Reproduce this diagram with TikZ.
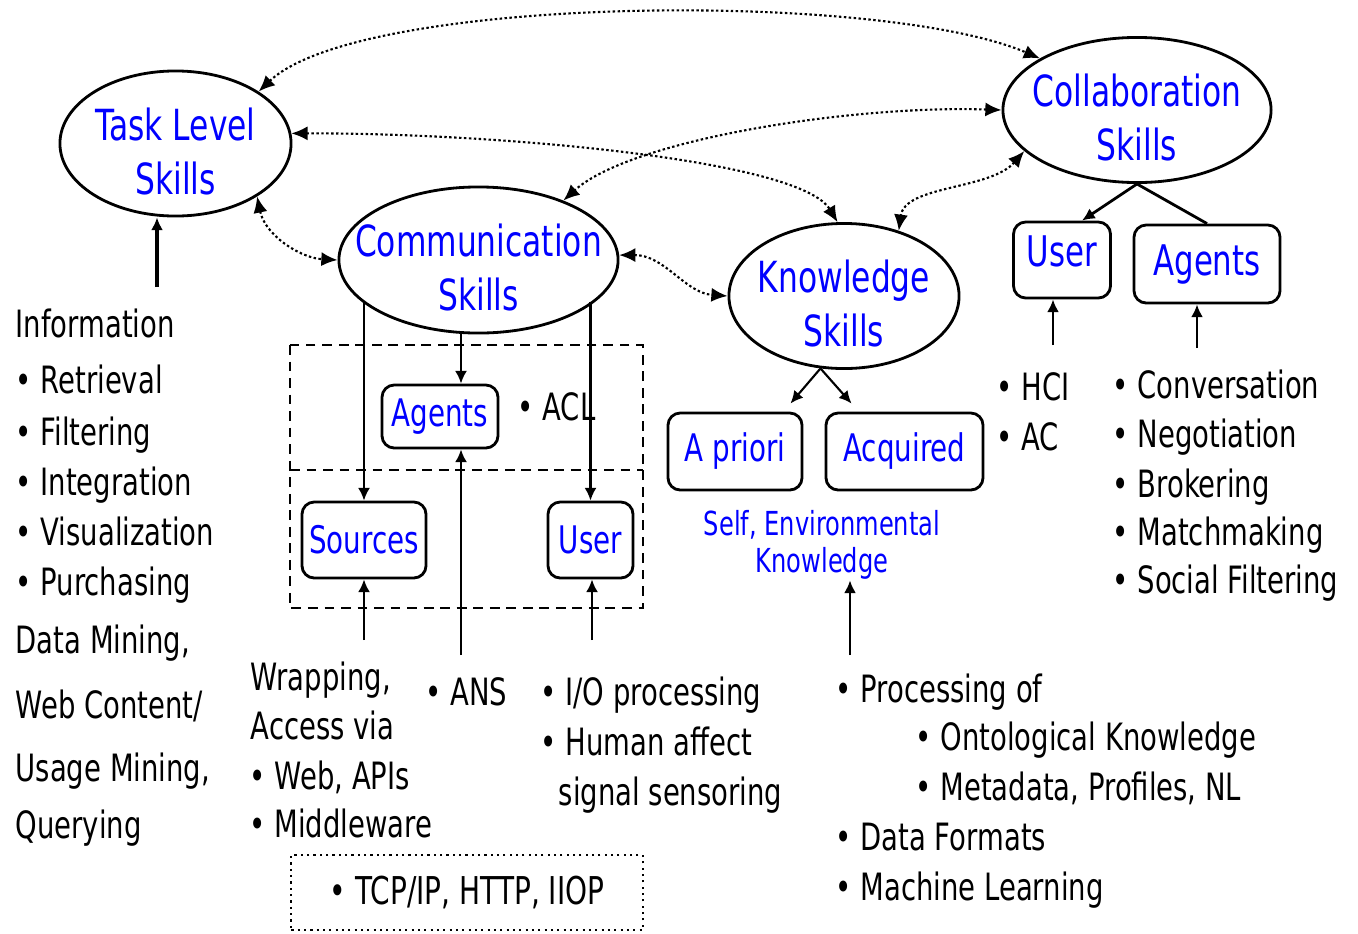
\documentclass[tikz,border=0pt]{standalone}
\usepackage{fontspec}
\setmainfont{DejaVu Sans}[FakeStretch=0.73]
\usetikzlibrary{shapes.geometric,arrows.meta}
\newcommand{\zw}[1]{\makebox[0pt]{#1}}
\newcommand{\skilllabel}[2]{\zw{\rule{0pt}{13.6pt}#1}\\\zw{#2}}

\begin{document}
\begin{tikzpicture}[x=0.01cm,y=-0.01cm]
    \tikzstyle{skill}=[ellipse,draw=black,line width=0.8pt,inner sep=0pt,align=center,text=blue,font=\fontsize{12.2}{15.4}\selectfont]
    \tikzstyle{part}=[rectangle,draw=black,rounded corners=3.5pt,line width=0.8pt,inner sep=0pt,text=blue,font=\fontsize{10.8}{13}\selectfont]
    \tikzstyle{big part}=[part,font=\fontsize{12}{14}\selectfont]
    \tikzstyle{item}=[anchor=base west,inner sep=0pt,font=\fontsize{10.7}{13}\selectfont]
    \tikzstyle{link}=[-{Latex[length=3.6pt,width=3.4pt]},line width=0.6pt]
    \tikzstyle{assoc}=[{Latex[length=4.6pt,width=4pt]}-{Latex[length=4.6pt,width=4pt]},line width=0.6pt,dash pattern=on 0.7pt off 0.7pt]
    \tikzstyle{frame}=[line width=0.7pt,dash pattern=on 2.8pt off 1.9pt]

    \useasboundingbox (0,0) rectangle (1358,933);

    % Draw the skill ellipses
    \node[skill,minimum width=2.31cm,minimum height=1.33cm] (task) at (175.5,143.5) {\skilllabel{Task Level}{Skills}};
    \node[skill,minimum width=2.79cm,minimum height=1.46cm] (comm) at (478.5,260) {\skilllabel{Communication}{Skills}};
    \node[skill,minimum width=2.30cm,minimum height=1.38cm] (know) at (844,296) {\skilllabel{Knowledge}{Skills}};
    \node[skill,minimum width=2.68cm,minimum height=1.36cm] (collab) at (1137,110) {\skilllabel{Collaboration}{Skills}};

    % Draw the component boxes
    \node[big part,minimum width=0.97cm,minimum height=0.76cm,text depth=0.5em] (cuser) at (1062,260) {User};
    \node[big part,minimum width=1.46cm,minimum height=0.78cm] (cagents) at (1207,264) {Agents};
    \node[part,minimum width=1.16cm,minimum height=0.63cm] (magents) at (440,416.5) {Agents};
    \node[part,minimum width=1.24cm,minimum height=0.76cm] (sources) at (364,540) {Sources};
    \node[part,minimum width=0.85cm,minimum height=0.76cm] (muser) at (590.5,540) {User};
    \node[part,minimum width=1.34cm,minimum height=0.77cm] (apriori) at (735,451.5) {A priori};
    \node[part,minimum width=1.57cm,minimum height=0.77cm] (acquired) at (904.5,451.5) {Acquired};
    \node[inner sep=0pt,align=center,text=blue,font=\fontsize{9.4}{10.6}\selectfont] (selfenv) at (822,545) {Self, Environmental\\Knowledge};

    % Frames round the communication parts
    \draw[frame] (290,345) rectangle (643,608);
    \draw[frame] (290,470) -- (643,470);
    \node[draw,line width=0.6pt,dash pattern=on 0.6pt off 1.2pt,inner sep=0pt,minimum width=3.51cm,minimum height=0.75cm,font=\fontsize{10.9}{13}\selectfont] (tcp) at (467,892.5) {\textbullet\ TCP/IP, HTTP, IIOP};

    % Task level skills
    \node[item] (info) at (15,337) {Information};
    \foreach \name/\txt/\y in {retr/Retrieval/393,filt/Filtering/445,integ/Integration/495,visu/Visualization/545,purch/Purchasing/595}
        \node[item] (\name) at (15,\y) {\textbullet\ \txt};
    \foreach \name/\txt/\y in {dm/{Data Mining,}/653,wcm/{Web Content/}/718,umq/{Usage Mining,}/781,qry/Querying/838}
        \node[item] (\name) at (15,\y) {\txt};

    % Communication skills
    \node[item] (wrap) at (250,690) {Wrapping,};
    \node[item] (access) at (250,739) {Access via};
    \foreach \name/\txt/\y in {webapi/{Web, APIs}/789,middle/Middleware/837}
        \node[item] (\name) at (249,\y) {\textbullet\ \txt};
    \node[item] (ans) at (425,705) {\textbullet\ ANS};
    \node[item] (acl) at (517,420) {\textbullet\ ACL};
    \node[item] (iop) at (540,705) {\textbullet\ I/O processing};
    \node[item] (human) at (540,755) {\textbullet\ Human affect};
    \node[item] (signal) at (558,805) {signal sensoring};

    % Knowledge skills
    \foreach \name/\txt/\x/\y in {proc/{Processing of}/835/702,onto/{Ontological Knowledge}/915/750,meta/{Metadata, Profiles, NL}/915/800,dform/{Data Formats}/835/850,mlearn/{Machine Learning}/835/900}
        \node[item] (\name) at (\x,\y) {\textbullet\ \txt};

    % Collaboration skills
    \foreach \name/\txt/\y in {hci/HCI/400,ac/AC/450}
        \node[item] (\name) at (996,\y) {\textbullet\ \txt};
    \foreach \name/\txt/\y in {conv/Conversation/398,nego/Negotiation/447,brok/Brokering/497,match/Matchmaking/545,socf/{Social Filtering}/593}
        \node[item] (\name) at (1112,\y) {\textbullet\ \txt};

    % Solid arrows
    \coordinate (infoTop) at (157,287);
    \coordinate (ansTop) at (461,655);
    \coordinate (wrapTop) at (364,640);
    \coordinate (ioTop) at (592,640);
    \coordinate (procTop) at (850,655);
    \coordinate (hciTop) at (1053,345);
    \coordinate (convTop) at (1197,348);
    \draw[link,line width=0.9pt] (infoTop) -- (task.south -| infoTop);
    \draw[link] (comm.south -| ansTop) -- (magents.north -| ansTop);
    \draw[link] (ansTop) -- (magents.south -| ansTop);
    \draw[link] (sources.north |- comm.-160) -- (sources.north);
    \draw[link] (muser.north |- comm.-20) -- (muser.north);
    \draw[link] (wrapTop) -- (wrapTop |- sources.south);
    \draw[link] (ioTop) -- (ioTop |- muser.south);
    \draw[link] (know.-108) -- ([xshift=-0.13cm,yshift=0.08cm]apriori.north east);
    \draw[link] (know.-108) -- ([xshift=0.27cm,yshift=0.08cm]acquired.north west);
    \draw[link,line width=0.8pt] (procTop) -- (procTop |- selfenv.south);
    \draw[link,line width=0.8pt] (collab.south) -- ([xshift=0.2cm]cuser.north);
    \draw[line width=0.8pt] (collab.south) -- (cagents.north);
    \draw[link,line width=0.8pt] (hciTop) -- (hciTop |- cuser.south);
    \draw[link,line width=0.8pt] (convTop) -- (convTop |- cagents.south);

    % Dotted links between the skills
    \draw[assoc] (task.32) .. controls (360,-5) and (880,-10) .. (collab.152);
    \draw[assoc] (task.5) .. controls (500,133) and (800,160) .. (know.95);
    \draw[assoc] (collab.180) .. controls (850,105) and (630,140) .. (comm.35);
    \draw[assoc] (collab.200) .. controls (990,190) and (905,185) .. (know.50);
    \draw[assoc] (task.-33) .. controls (265,235) and (300,258) .. (comm.180);
    \draw[assoc] (comm.2) .. controls (665,255) and (685,293) .. (know.180);
\end{tikzpicture}
\end{document}
